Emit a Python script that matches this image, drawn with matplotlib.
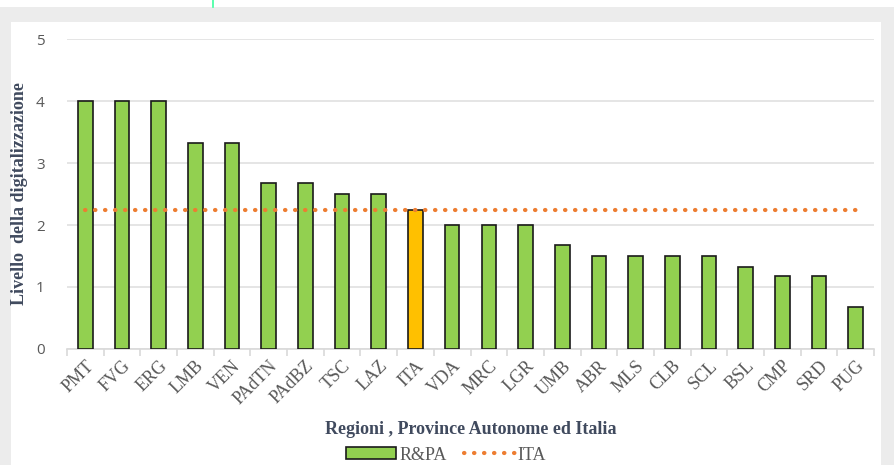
import matplotlib
matplotlib.use("Agg")
import matplotlib.pyplot as plt
from matplotlib.patches import Rectangle
from matplotlib.lines import Line2D
import numpy as np

regions = ["PMT", "FVG", "ERG", "LMB", "VEN", "PAdTN", "PAdBZ", "TSC", "LAZ", "ITA",
           "VDA", "MRC", "LGR", "UMB", "ABR", "MLS", "CLB", "SCL", "BSL", "CMP", "SRD", "PUG"]
livello = [4.0, 4.0, 4.0, 3.33, 3.33, 2.67, 2.67, 2.5, 2.5, 2.25,
           2.0, 2.0, 2.0, 1.67, 1.5, 1.5, 1.5, 1.5, 1.33, 1.17, 1.17, 0.67]
ita_value = 2.25
yticks = [0, 1, 2, 3, 4, 5]

W, H = 894, 465
fig = plt.figure(figsize=(W / 100, H / 100), dpi=100)
fig.patch.set_facecolor("#ececec")

# white strip on top (with a thin marker line) and white chart panel
fig.add_artist(Rectangle((0, 1 - 7 / H), 1, 7 / H, transform=fig.transFigure,
                         facecolor="white", edgecolor="none", zorder=0))
fig.add_artist(Line2D([212.5 / W, 212.5 / W], [1 - 7 / H, 1], transform=fig.transFigure,
                      color="#3dffa0", linewidth=1.2, zorder=1))
fig.add_artist(Rectangle((11 / W, 0), (881 - 11) / W, (H - 22) / H, transform=fig.transFigure,
                         facecolor="white", edgecolor="none", zorder=0))

x0, x1, yb, yt = 67, 874, 349, 39
ax = fig.add_axes([x0 / W, 1 - yb / H, (x1 - x0) / W, (yb - yt) / H])
ax.set_facecolor("none")

n = len(regions)
x = np.arange(n)
colors = ["#ffc000" if r == "ITA" else "#92d050" for r in regions]
dots = (0, (0.1, 2.3))
ax.bar(x, livello, width=0.4, color=colors, edgecolor="#1a1a1a", linewidth=1.2,
       zorder=3, label="R&PA")
ax.plot(x, [ita_value] * n, linestyle=dots, dash_capstyle="round",
        color="#ed7d31", linewidth=3.0, zorder=4, label="ITA")

ax.set_xlim(-0.5, n - 0.5)
ax.set_ylim(0, 5)
ax.set_yticks(yticks)
ax.yaxis.grid(True, color="#e0e0e0", linewidth=1.2, zorder=0)
ax.set_axisbelow(True)
for s in ["top", "right", "left"]:
    ax.spines[s].set_visible(False)
ax.spines["bottom"].set_color("#d9d9d9")
ax.spines["bottom"].set_linewidth(1.2)
ax.spines["bottom"].set_zorder(1)

ax.tick_params(axis="y", length=0, pad=16, labelsize=11, labelcolor="#595959")
for lab in ax.get_yticklabels():
    lab.set_family("Open Sans")

ax.set_xticks(x)
ax.set_xticklabels(regions, rotation=45, ha="right", rotation_mode="anchor",
                   family="Liberation Serif", fontsize=13, color="#595959")
ax.tick_params(axis="x", which="major", length=0, pad=6)
ax.set_xticks(np.arange(-0.5, n, 1), minor=True)
ax.tick_params(axis="x", which="minor", length=5, color="#d9d9d9", width=1.2)

ax.set_ylabel("Livello  della digitalizzazione", family="Liberation Serif", fontweight="bold",
              fontsize=13, color="#404a5e")
ax.yaxis.set_label_coords((28 - x0) / (x1 - x0), 0.5)
ax.set_xlabel("Regioni , Province Autonome ed Italia", family="Liberation Serif",
              fontweight="bold", fontsize=13, color="#404a5e")
ax.xaxis.set_label_coords(0.5, -(429 - yb) / (yb - yt))
ax.xaxis.label.set_va("center")

handles = [Rectangle((0, 0), 1, 1, facecolor="#92d050", edgecolor="#1a1a1a", linewidth=1.2),
           Line2D([0], [0], linestyle=dots, dash_capstyle="round",
                  color="#ed7d31", linewidth=3.0)]
leg = fig.legend(handles, ["R&PA", "ITA"], loc="center", bbox_to_anchor=(446 / W, 1 - 455 / H),
                 ncol=2, frameon=False, handlelength=2.8, handleheight=0.6, handletextpad=0.15,
                 columnspacing=1.0, prop={"family": "Liberation Serif", "size": 13})
for t in leg.get_texts():
    t.set_color("#595959")

fig.savefig("out.png", dpi=100, facecolor=fig.get_facecolor())
